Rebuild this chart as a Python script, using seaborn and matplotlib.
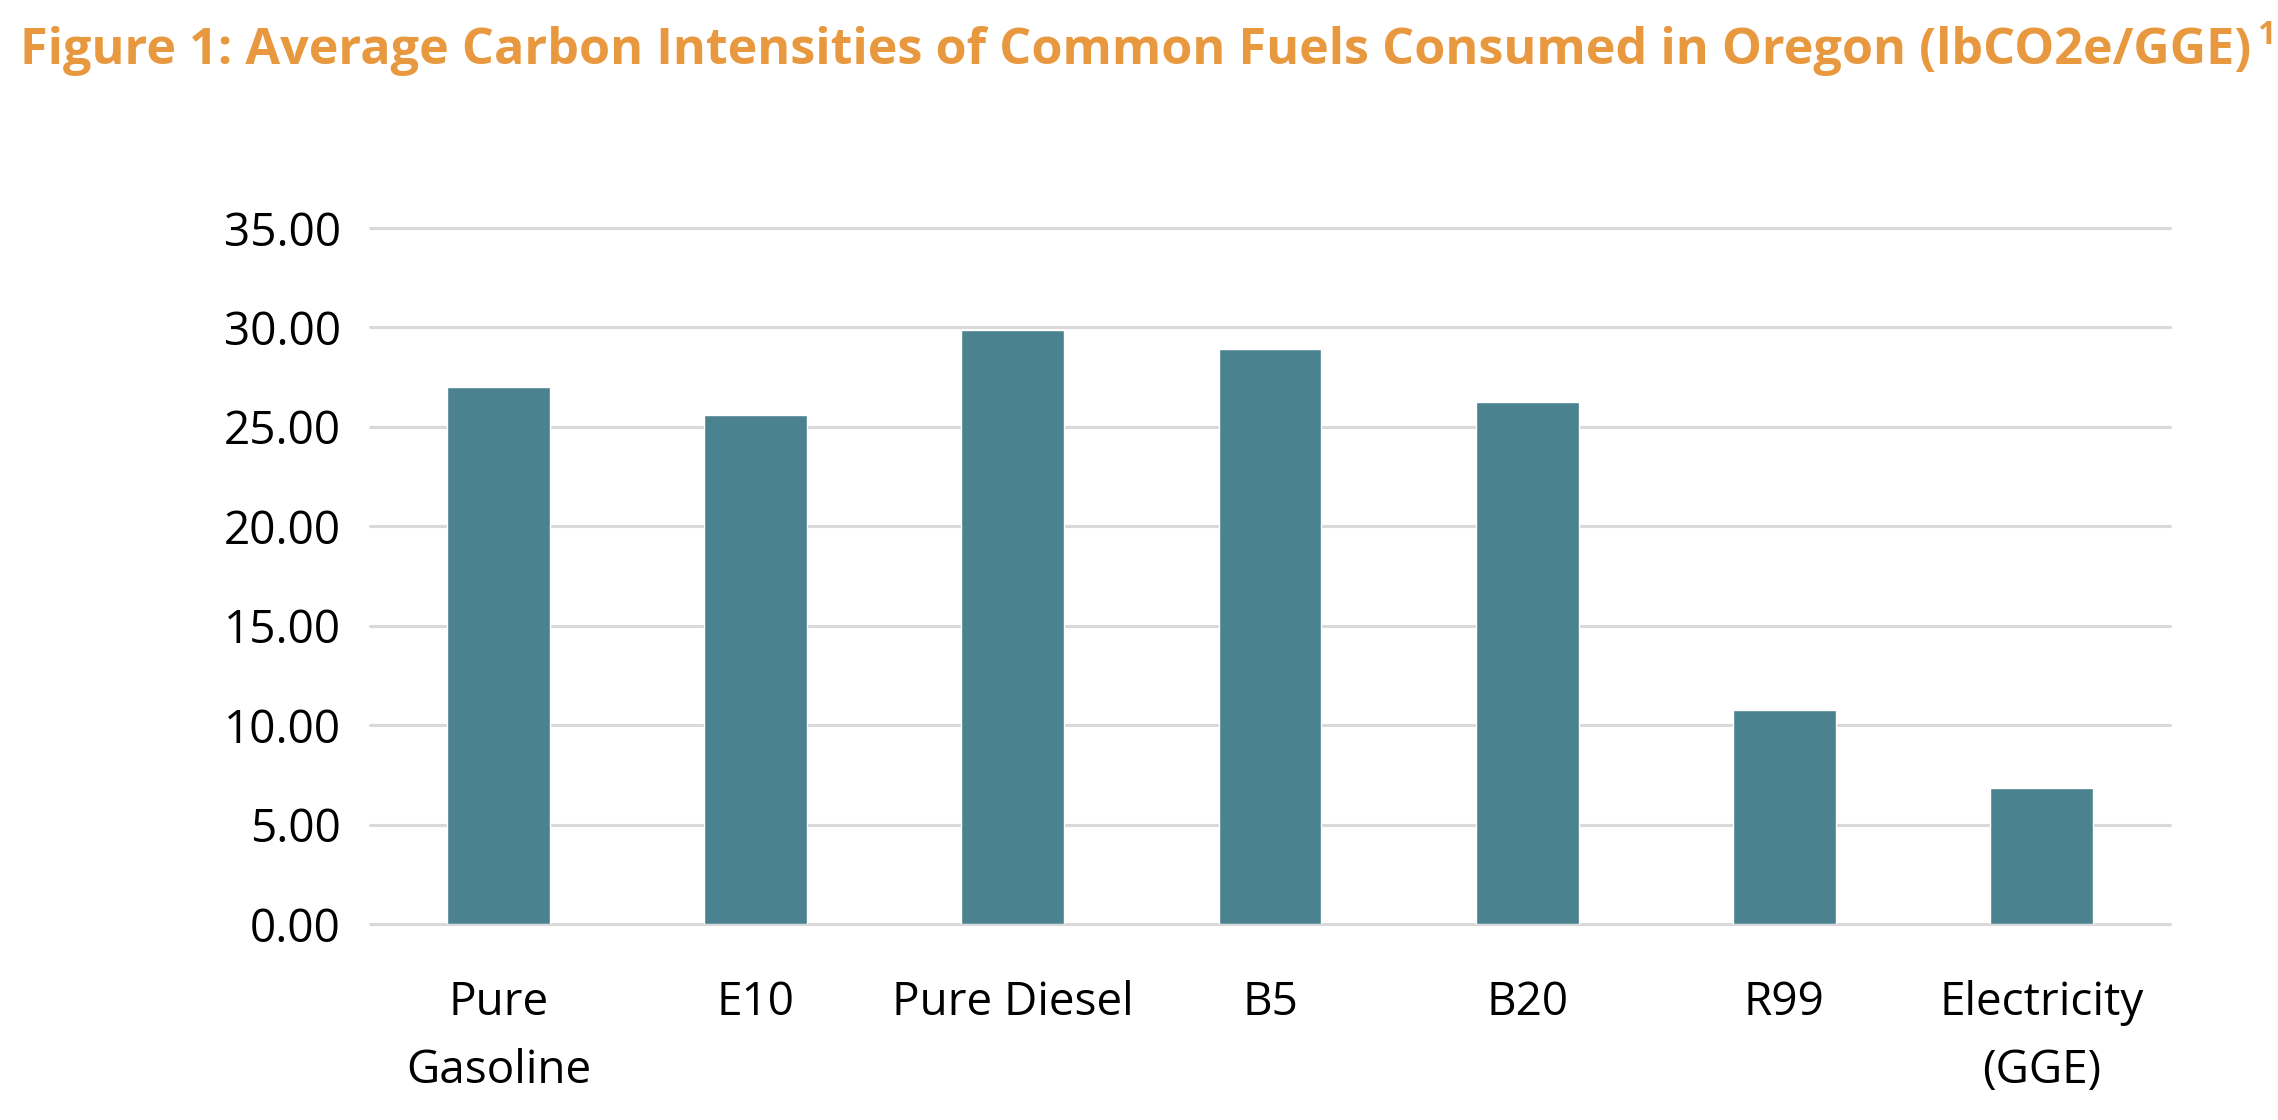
import matplotlib
matplotlib.use("Agg")
import matplotlib.pyplot as plt
import seaborn as sns
import pandas as pd

# ---- data ----
categories = ["Pure\nGasoline", "E10", "Pure Diesel", "B5", "B20", "R99", "Electricity\n(GGE)"]
values = [27.02, 25.62, 29.86, 28.94, 26.23, 10.75, 6.83]
yticks = [0, 5, 10, 15, 20, 25, 30, 35]
ytick_labels = ["0.00", "5.00", "10.00", "15.00", "20.00", "25.00", "30.00", "35.00"]
title_text = "Figure 1: Average Carbon Intensities of Common Fuels Consumed in Oregon (lbCO2e/GGE)"
footnote_mark = "1"

BAR = "#4A8290"
GRID = "#D9D9D9"
ORANGE = "#E8993F"

sns.set_theme(style="white")
plt.rcParams['font.family'] = ['Open Sans', 'DejaVu Sans']

W, H = 2278, 1120
fig = plt.figure(figsize=(W / 100, H / 100), dpi=100)
ax = fig.add_axes([370 / W, 1 - 924 / H, 1800 / W, 696 / H])

df = pd.DataFrame({"fuel": categories, "ci": values})
sns.barplot(data=df, x="fuel", y="ci", color=BAR, width=0.4, saturation=1,
            ax=ax, zorder=3)

ax.set_ylim(0, 35)
ax.set_xlim(-0.5, len(categories) - 0.5)
ax.set_yticks(yticks)
ax.set_yticklabels(ytick_labels)
ax.set_xlabel("")
ax.set_ylabel("")
ax.yaxis.grid(True, color=GRID, linewidth=2.2)
ax.xaxis.grid(False)
ax.set_axisbelow(True)
for gl in ax.get_ygridlines():
    gl.set_clip_on(False)
for s in ["top", "left", "right", "bottom"]:
    ax.spines[s].set_visible(False)
ax.tick_params(axis="y", length=0, pad=21, labelsize=33, labelcolor="black")
ax.tick_params(axis="x", length=0, pad=40, labelsize=33, labelcolor="black")
for lab in ax.get_xticklabels():
    lab.set_linespacing(1.65)
    lab.set_horizontalalignment("center")
    lab.set_multialignment("center")

t = fig.text(20 / W, 1 - 64 / H, title_text, fontsize=36.3, fontweight="bold",
             color=ORANGE, ha="left", va="baseline")
fig.canvas.draw()
bb = t.get_window_extent()
fig.text((bb.x1 + 6) / W, 1 - 44 / H, footnote_mark, fontsize=23, fontweight="bold",
         color=ORANGE, ha="left", va="baseline")

fig.savefig("out.png", dpi=100, facecolor="white")
